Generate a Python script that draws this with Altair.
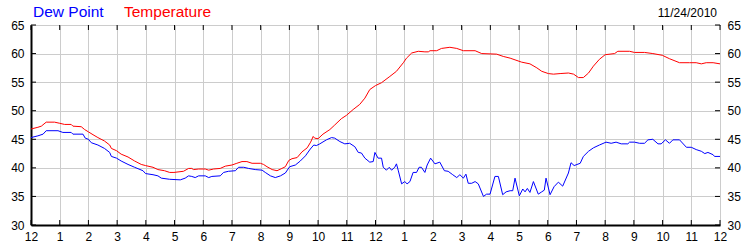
import altair as alt
import pandas as pd

# ---- data ----
temp_hours = [0.00, 0.24, 0.36, 0.53, 0.82, 1.00, 1.17, 1.40, 1.46, 1.75, 1.87, 2.00, 2.16, 2.33, 2.56, 2.74, 2.80, 2.98,
              3.14, 3.38, 3.61, 3.84, 3.99, 4.25, 4.42, 4.65, 4.83, 4.98, 5.31, 5.49, 5.60, 5.66, 5.84, 6.07, 6.19, 6.36,
              6.59, 6.77, 7.00, 7.17, 7.35, 7.52, 7.70, 7.99, 8.10, 8.22, 8.40, 8.57, 8.74, 8.86, 8.98, 9.09, 9.27, 9.44,
              9.62, 9.74, 9.83, 9.88, 10.0, 10.17, 10.41, 10.58, 10.81, 10.99, 11.22, 11.45, 11.63, 11.80, 12.0, 12.21,
              12.50, 12.73, 12.97, 13.08, 13.26, 13.49, 13.72, 13.84, 13.90, 14.13, 14.30, 14.59, 14.83, 15.06, 15.47,
              15.70, 16.22, 16.45, 16.69, 16.86, 17.09, 17.38, 17.62, 17.79, 18.02, 18.20, 18.43, 18.72, 18.90, 19.07,
              19.24, 19.42, 19.59, 19.80, 20.0, 20.33, 20.44, 20.85, 21.02, 21.37, 21.66, 21.99, 22.24, 22.59, 22.94,
              23.17, 23.35, 23.52, 23.76, 24.0]
temp_values = [46.8, 47.1, 47.3, 48.0, 48.0, 47.8, 47.6, 47.6, 47.3, 47.2, 46.7, 46.3, 45.8, 45.3, 44.7, 44.0, 43.4, 43.0,
               42.4, 41.9, 41.2, 40.6, 40.4, 40.1, 39.7, 39.5, 39.2, 39.2, 39.4, 39.9, 39.9, 39.7, 39.8, 39.8, 39.6, 39.8,
               39.9, 40.3, 40.5, 40.8, 41.1, 41.1, 40.8, 40.8, 40.6, 40.2, 39.7, 39.5, 39.9, 40.2, 41.3, 41.6, 41.8, 42.8,
               43.5, 44.5, 45.5, 45.2, 45.1, 45.9, 46.7, 47.5, 48.6, 49.2, 50.2, 51.1, 52.2, 53.7, 54.4, 54.9,
               56.0, 56.9, 58.4, 59.2, 60.1, 60.4, 60.3, 60.3, 60.5, 60.5, 60.9, 61.1, 60.9, 60.5, 60.5,
               60.0, 59.9, 59.5, 59.2, 58.9, 58.5, 58.2, 57.5, 56.9, 56.5, 56.4, 56.5, 56.6, 56.4, 55.8,
               55.8, 56.6, 57.8, 59.0, 59.8, 60.0, 60.4, 60.4, 60.2, 60.2, 60.0, 59.7, 59.1, 58.4, 58.4,
               58.4, 58.2, 58.4, 58.4, 58.2]

dew_hours = [0.00, 0.24, 0.42, 0.53, 0.94, 1.11, 1.40, 1.46, 1.81, 1.89, 2.00, 2.10, 2.33, 2.56, 2.74, 2.80, 2.98, 3.14,
             3.38, 3.61, 3.90, 3.99, 4.25, 4.42, 4.54, 4.83, 5.20, 5.37, 5.49, 5.60, 5.72, 5.84, 6.07, 6.19, 6.30, 6.59,
             6.71, 6.88, 7.12, 7.23, 7.41, 7.58, 7.81, 8.05, 8.16, 8.34, 8.51, 8.69, 8.86, 9.01, 9.21, 9.38, 9.56, 9.73,
             9.85, 9.94, 10.06, 10.29, 10.47, 10.58, 10.76, 10.93, 11.10, 11.28, 11.40, 11.51, 11.63, 11.80, 11.92,
             11.98, 12.09, 12.21, 12.27, 12.38, 12.48, 12.56, 12.67, 12.73, 12.79, 12.91, 13.02, 13.10, 13.20, 13.31,
             13.43, 13.52, 13.60, 13.72, 13.80, 13.92, 14.07, 14.24, 14.40, 14.53, 14.69, 14.83, 14.94, 15.06, 15.15,
             15.23, 15.35, 15.47, 15.58, 15.76, 15.87, 15.99, 16.16, 16.28, 16.43, 16.55, 16.69, 16.78, 16.86, 17.01,
             17.13, 17.21, 17.29, 17.38, 17.50, 17.67, 17.79, 17.88, 17.94, 18.08, 18.22, 18.37, 18.52, 18.72, 18.81,
             18.92, 19.13, 19.24, 19.42, 19.59, 19.80, 20.03, 20.21, 20.38, 20.56, 20.79, 20.85, 21.02, 21.20, 21.37,
             21.49, 21.66, 21.84, 21.95, 22.10, 22.24, 22.36, 22.59, 22.83, 23.00, 23.17, 23.35, 23.47, 23.58, 23.76,
             23.81, 24.00]
dew_values = [45.3, 45.6, 45.9, 46.5, 46.5, 46.2, 46.2, 45.9, 45.9, 45.2, 45.0, 44.4, 44.0, 43.4, 42.7, 42.0, 41.7, 41.2,
              40.6, 40.1, 39.5, 39.0, 38.8, 38.6, 38.2, 38.0, 37.9, 38.2, 38.6, 38.5, 38.3, 38.6, 38.6, 38.3, 38.5, 38.6,
              39.2, 39.4, 39.5, 40.1, 40.1, 39.9, 39.7, 39.6, 39.2, 38.6, 38.3, 38.6, 39.1, 40.2, 40.5, 41.2, 42.1, 43.3,
              44.0, 43.9, 44.2, 44.9, 45.3, 45.2, 44.6, 44.2, 44.3, 43.7, 42.7, 42.6, 41.7, 41.0, 41.1,
              42.7, 41.7, 41.7, 40.1, 39.6, 40.1, 39.6, 40.1, 40.7, 39.6, 37.2, 37.6, 37.2, 37.6, 39.2,
              39.2, 40.1, 40.1, 39.2, 40.5, 41.7, 40.7, 41.0, 39.5, 39.4, 38.8, 38.3, 38.8, 38.2, 38.9,
              37.3, 37.3, 37.6, 37.2, 35.0, 35.4, 35.4, 38.5, 38.5, 35.3, 35.8, 36.0, 36.0, 38.2, 35.1,
              36.3, 35.8, 36.4, 35.7, 37.6, 35.4, 35.8, 36.1, 38.2, 35.3, 36.7, 37.5, 36.8, 39.1, 40.9,
              40.4, 40.8, 42.0, 42.9, 43.5, 44.0, 44.5, 44.3, 44.5, 44.2, 44.2, 44.5, 44.5, 44.3, 44.3,
              44.9, 45.0, 44.2, 44.2, 44.9, 44.3, 44.9, 44.9, 43.6, 43.6, 43.2, 42.9, 42.5, 42.7, 42.3,
              42.0, 42.0]

series_names = ["Dew Point", "Temperature"]
series_colors = ["#0000ff", "#ff0000"]
hour_ticks = list(range(0, 25))
value_ticks = [30, 35, 40, 45, 50, 55, 60, 65]
date_label = "11/24/2010"

FONT = "Liberation Sans"

df = pd.concat([
    pd.DataFrame({"hour": dew_hours, "value": dew_values, "series": "Dew Point"}),
    pd.DataFrame({"hour": temp_hours, "value": temp_values, "series": "Temperature"}),
])

xscale = alt.Scale(domain=[0, 24], nice=False, zero=False)
yscale = alt.Scale(domain=[30, 65], nice=False, zero=False)

xaxis = alt.Axis(values=hour_ticks, labelExpr="datum.value % 12 == 0 ? '12' : '' + (datum.value % 12)",
                 grid=True, gridColor="#cccccc", ticks=False, tickSize=0, domain=True, domainColor="#000000",
                 domainWidth=2, labelPadding=6, labelFont=FONT, labelFontSize=12, labelColor="#000000",
                 title=None, labelFlush=False, orient="bottom")
yaxis_left = alt.Axis(values=value_ticks, grid=True, gridColor="#cccccc", ticks=False, tickSize=0, domain=True,
                      domainColor="#000000", domainWidth=2, labelPadding=7, labelFont=FONT, labelFontSize=12,
                      labelColor="#000000", title=None, orient="left", labelFlush=False)
yaxis_right = alt.Axis(values=value_ticks, grid=False, ticks=False, tickSize=0, domain=False,
                       labelPadding=7, labelFont=FONT, labelFontSize=12, labelColor="#000000", title=None,
                       orient="right", labelFlush=False)

lines = alt.Chart(df).mark_line(strokeWidth=1, interpolate="linear").encode(
    x=alt.X("hour:Q", scale=xscale, axis=xaxis),
    y=alt.Y("value:Q", scale=yscale, axis=yaxis_left),
    color=alt.Color("series:N", scale=alt.Scale(domain=series_names, range=series_colors), legend=None),
    detail="series:N",
)

hdf = pd.DataFrame({"hour": hour_ticks})
vdf = pd.DataFrame({"value": value_ticks})

top_ticks = alt.Chart(hdf).mark_rule(color="#000000", strokeWidth=1).encode(
    x=alt.X("hour:Q", scale=xscale, axis=xaxis), y=alt.value(0), y2=alt.value(5))
bottom_ticks = alt.Chart(hdf).mark_rule(color="#000000", strokeWidth=1).encode(
    x=alt.X("hour:Q", scale=xscale, axis=xaxis), y=alt.value(195), y2=alt.value(200))
left_ticks = alt.Chart(vdf).mark_rule(color="#000000", strokeWidth=1).encode(
    y=alt.Y("value:Q", scale=yscale, axis=None), x=alt.value(0), x2=alt.value(5))
right_ticks = alt.Chart(vdf).mark_rule(color="#000000", strokeWidth=1).encode(
    y=alt.Y("value:Q", scale=yscale, axis=yaxis_right), x=alt.value(684), x2=alt.value(689))

t1 = alt.Chart(pd.DataFrame({"t": [series_names[0]]})).mark_text(
    font=FONT, fontSize=15.5, color=series_colors[0], align="left", baseline="alphabetic").encode(
    text="t:N", x=alt.value(2), y=alt.value(-8))
t2 = alt.Chart(pd.DataFrame({"t": [series_names[1]]})).mark_text(
    font=FONT, fontSize=15.5, color=series_colors[1], align="left", baseline="alphabetic").encode(
    text="t:N", x=alt.value(93), y=alt.value(-8))
t3 = alt.Chart(pd.DataFrame({"t": [date_label]})).mark_text(
    font=FONT, fontSize=12, color="#000000", align="right", baseline="alphabetic").encode(
    text="t:N", x=alt.value(686), y=alt.value(-8))

chart = alt.layer(lines, top_ticks, bottom_ticks, left_ticks, right_ticks, t1, t2, t3).resolve_axis(
    y="independent", x="shared"
).properties(
    width=689, height=200,
    autosize=alt.AutoSizeParams(type="none"),
    padding={"left": 31, "top": 25, "right": 30, "bottom": 25},
    background="#ffffff",
).configure_view(stroke="#000000", strokeWidth=1)

chart.save("out.html", embed_options={"renderer": "svg", "actions": False})
